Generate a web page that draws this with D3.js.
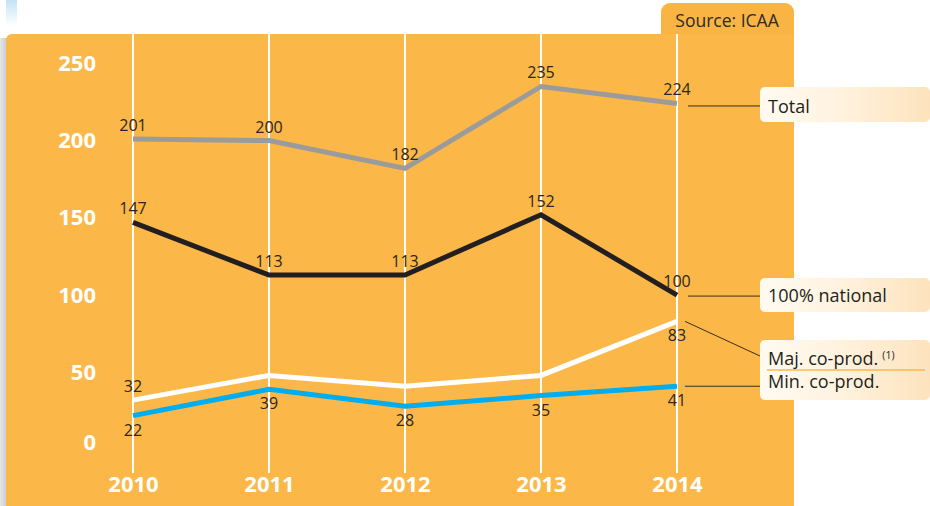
<!DOCTYPE html>
<html>
<head>
<meta charset="utf-8">
<script src="https://cdn.jsdelivr.net/npm/d3@7"></script>
<style>
  html, body { margin: 0; padding: 0; background: #fff; }
  svg { display: block; font-family: "Open Sans", "DejaVu Sans", sans-serif; }
</style>
</head>
<body>
<svg id="chart" width="930" height="506"></svg>
<script>
// ---- data ----
const years = ["2010", "2011", "2012", "2013", "2014"];
const total = [201, 200, 182, 235, 224];
const national = [147, 113, 113, 152, 100];
const majCoprod = [32, 48, 41, 48, 83];
const minCoprod = [22, 39, 28, 35, 41];
const yTicks = [0, 50, 100, 150, 200, 250];
const sourceText = "Source: ICAA";

const svg = d3.select("#chart");
const W = 930, H = 506;

const defs = svg.append("defs");
const lg = defs.append("linearGradient").attr("id", "legGrad").attr("x1", "0").attr("x2", "1").attr("y1", "0").attr("y2", "0");
lg.append("stop").attr("offset", "0").attr("stop-color", "#fffaf1");
lg.append("stop").attr("offset", "0.45").attr("stop-color", "#fff3e0");
lg.append("stop").attr("offset", "1").attr("stop-color", "#fde3bd");

const bg = defs.append("linearGradient").attr("id", "blueGrad").attr("x1", "0").attr("x2", "0").attr("y1", "0").attr("y2", "1");
bg.append("stop").attr("offset", "0").attr("stop-color", "#c3e2f5");
bg.append("stop").attr("offset", "1").attr("stop-color", "#ffffff");

const sg = defs.append("linearGradient").attr("id", "shadowGrad").attr("x1", "0").attr("x2", "1").attr("y1", "0").attr("y2", "0");
sg.append("stop").attr("offset", "0").attr("stop-color", "#e4e6ea");
sg.append("stop").attr("offset", "1").attr("stop-color", "#c4c6cb");

// decorative strips
svg.append("rect").attr("x", 6).attr("y", 0).attr("width", 11).attr("height", 26).attr("fill", "url(#blueGrad)");
svg.append("rect").attr("x", 0).attr("y", 38).attr("width", 8).attr("height", H - 38).attr("fill", "url(#shadowGrad)");

// panel and source tab
const orange = "#fbb848";
svg.append("rect").attr("x", 661).attr("y", 3).attr("width", 133).attr("height", 45).attr("rx", 9).attr("fill", "#fab444");
svg.append("rect").attr("x", 6).attr("y", 34).attr("width", 788).attr("height", 480).attr("rx", 6).attr("fill", orange);
svg.append("text").attr("x", 727).attr("y", 27).attr("text-anchor", "middle")
  .attr("font-size", 17.5).attr("fill", "#2b2b2b").text(sourceText);

// scales
const x = d3.scalePoint().domain(years).range([133, 677]);
const y = d3.scaleLinear().domain([0, 250]).range([449.6, 63.3]);

// vertical gridlines
svg.append("g").selectAll("line").data(years).join("line")
  .attr("x1", d => x(d)).attr("x2", d => x(d))
  .attr("y1", 34).attr("y2", 473)
  .attr("stroke", "#ffffff").attr("stroke-width", 2);

// series
const series = [
  { key: "total", values: total, color: "#9b9b9b" },
  { key: "national", values: national, color: "#231f20" },
  { key: "maj", values: majCoprod, color: "#ffffff" },
  { key: "min", values: minCoprod, color: "#00aeef" }
];
const line = d3.line().x((d, i) => x(years[i])).y(d => y(d));
svg.append("g").selectAll("path").data(series).join("path")
  .attr("d", s => line(s.values))
  .attr("fill", "none")
  .attr("stroke", s => s.color)
  .attr("stroke-width", 5)
  .attr("stroke-linejoin", "miter");

// data labels
const labels = [];
total.forEach((v, i) => labels.push({ v, i, pos: "above" }));
national.forEach((v, i) => labels.push({ v, i, pos: "above" }));
labels.push({ v: majCoprod[0], i: 0, pos: "above" });
labels.push({ v: majCoprod[4], i: 4, pos: "below" });
minCoprod.forEach((v, i) => labels.push({ v, i, pos: "below" }));

svg.append("g").selectAll("text").data(labels).join("text")
  .attr("x", d => x(years[d.i]))
  .attr("y", d => y(d.v) + (d.pos === "above" ? -8 : 20))
  .attr("text-anchor", "middle")
  .attr("font-size", 16)
  .attr("fill", "#2a2622")
  .text(d => d.v);

// y axis
const yAxis = svg.append("g").attr("transform", "translate(96,0)")
  .call(d3.axisLeft(y).tickValues(yTicks).tickSize(0).tickPadding(0));
yAxis.select(".domain").remove();
yAxis.selectAll("text")
  .attr("font-family", "'Open Sans', sans-serif")
  .attr("font-size", 22).attr("font-weight", "bold").attr("fill", "#ffffff")
  .attr("dy", d => d === 0 ? "0.0em" : "0.32em");

// x axis
const xAxis = svg.append("g").attr("transform", "translate(0,473)")
  .call(d3.axisBottom(x).tickSize(0).tickPadding(3));
xAxis.select(".domain").remove();
xAxis.selectAll("text")
  .attr("font-family", "'Open Sans', sans-serif")
  .attr("font-size", 22).attr("font-weight", "bold").attr("fill", "#ffffff");

// legend boxes
const legG = svg.append("g");
legG.append("rect").attr("x", 760).attr("y", 87).attr("width", 170).attr("height", 35).attr("rx", 5).attr("fill", "url(#legGrad)");
legG.append("rect").attr("x", 760).attr("y", 278).attr("width", 170).attr("height", 34).attr("rx", 5).attr("fill", "url(#legGrad)");
legG.append("rect").attr("x", 760).attr("y", 340).attr("width", 170).attr("height", 60).attr("rx", 5).attr("fill", "url(#legGrad)");
legG.append("line").attr("x1", 767).attr("x2", 925).attr("y1", 370).attr("y2", 370)
  .attr("stroke", "#fbb848").attr("stroke-width", 1.5);

const legFont = 18;
legG.append("text").attr("x", 768).attr("y", 113).attr("font-size", legFont).attr("fill", "#231f20").text("Total");
legG.append("text").attr("x", 768).attr("y", 302).attr("font-size", legFont).attr("fill", "#231f20").text("100% national");
const majT = legG.append("text").attr("x", 768).attr("y", 365).attr("font-size", legFont).attr("fill", "#231f20");
majT.append("tspan").text("Maj. co-prod.");
majT.append("tspan").attr("font-size", 10.5).attr("dx", 4).attr("dy", -6).text("(1)");
legG.append("text").attr("x", 768).attr("y", 388).attr("font-size", legFont).attr("fill", "#231f20").text("Min. co-prod.");

// leader lines
const lead = svg.append("g").attr("stroke", "#3a2e1e").attr("stroke-width", 1);
lead.append("line").attr("x1", 688).attr("x2", 760).attr("y1", y(total[4]) + 2.5).attr("y2", y(total[4]) + 2.5);
lead.append("line").attr("x1", 688).attr("x2", 760).attr("y1", y(national[4]) + 1).attr("y2", y(national[4]) + 1);
lead.append("line").attr("x1", 685).attr("x2", 760).attr("y1", y(majCoprod[4])).attr("y2", 356);
lead.append("line").attr("x1", 685).attr("x2", 760).attr("y1", y(minCoprod[4])).attr("y2", y(minCoprod[4]));
</script>
</body>
</html>
